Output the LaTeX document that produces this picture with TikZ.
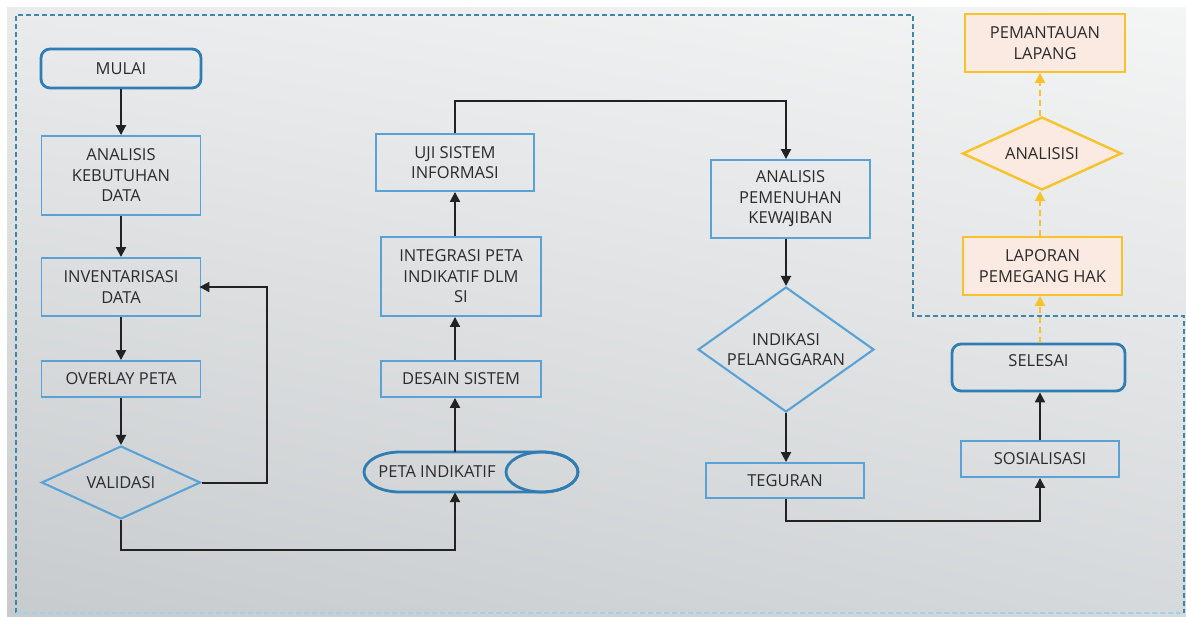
\documentclass[tikz,border=0pt]{standalone}
\usepackage{fontspec}
\setmainfont{Open Sans}
\usetikzlibrary{shapes.geometric,arrows.meta,shadings}
\definecolor{boxblue}{HTML}{5AA2D5}
\definecolor{termblue}{HTML}{2F7DB3}
\definecolor{dashblue}{HTML}{3C87AA}
\definecolor{lightdash}{HTML}{9FD3EA}
\definecolor{ylw}{HTML}{F7C22A}
\definecolor{ylwfill}{HTML}{FBEAE2}
\definecolor{txt}{HTML}{2B2B2B}
\definecolor{arr}{HTML}{222222}
\definecolor{bgUL}{HTML}{E9EBEC}
\definecolor{bgUR}{HTML}{F4F5F5}
\definecolor{bgLL}{HTML}{C8CBCD}
\definecolor{bgLR}{HTML}{D6D9DB}
\begin{document}
\begin{tikzpicture}[x=1pt,y=-1pt,
 base/.style={font=\fontsize{16.5}{20.5}\selectfont, text=txt, align=center, inner sep=0pt},
 proc/.style={base, draw=boxblue, line width=1.9pt},
 term/.style={base, draw=termblue, line width=2.8pt, rounded corners=9pt},
 dec/.style={base, diamond, draw=boxblue, line width=2.1pt},
 yproc/.style={base, draw=ylw, fill=ylwfill, line width=1.9pt},
 ydec/.style={base, diamond, draw=ylw, fill=ylwfill, line width=2.4pt},
 flow/.style={draw=arr, line width=2pt, -{Triangle[length=10pt,width=10pt]}},
 yflow/.style={draw=ylw, line width=2pt, dash pattern=on 6pt off 4pt, -{Triangle[length=10pt,width=10pt]}},
 frame/.style={draw=dashblue, line width=1.5pt, dash pattern=on 5pt off 3pt},
]
\useasboundingbox (0,0) rectangle (1186,616);
\fill[white] (0,0) rectangle (1186,616);
\shade[upper left=bgUL, upper right=bgUR, lower left=bgLL, lower right=bgLR] (7,7) rectangle (1186,616);

% dashed frame
\draw[frame] (16,613) -- (16,15) -- (913,15) -- (913,316) -- (1184,316) -- (1184,613);
\draw[frame, draw=lightdash] (16,613) -- (1184,613);

% column 1
\node[term, minimum width=160pt, minimum height=39pt] (mulai) at (121,68.5) {MULAI};
\node[proc, minimum width=159pt, minimum height=79pt] (akd) at (121,175.5) {ANALISIS\\KEBUTUHAN\\DATA};
\node[proc, minimum width=159pt, minimum height=58pt] (inv) at (121,287) {INVENTARISASI\\DATA};
\node[proc, minimum width=159pt, minimum height=36pt] (ovl) at (121,379) {OVERLAY PETA};
\node[dec, aspect=2.18, minimum width=159pt, minimum height=73pt] (val) at (121,482.5) {VALIDASI};

% column 2
\node[minimum width=214pt, minimum height=40pt, inner sep=0pt] (peta) at (471,472) {};
\draw[termblue, line width=2.8pt] (400,452) -- (542,452)
  arc[start angle=-90, end angle=90, x radius=36, y radius=20] -- (400,492)
  arc[start angle=90, end angle=270, x radius=36, y radius=20] -- cycle;
\draw[termblue, line width=2.8pt] (542,472) ellipse[x radius=36, y radius=20];
\node[base] (petatext) at (437,472) {PETA INDIKATIF};
\node[proc, minimum width=160pt, minimum height=36pt] (des) at (461,379) {DESAIN SISTEM};
\node[proc, minimum width=160pt, minimum height=79pt] (int) at (461,276.5) {INTEGRASI PETA\\INDIKATIF DLM\\SI};
\node[proc, minimum width=158pt, minimum height=57pt] (uji) at (455,162.5) {UJI SISTEM\\INFORMASI};

% column 3
\node[proc, minimum width=159pt, minimum height=78pt] (apk) at (790.5,199) {ANALISIS\\PEMENUHAN\\KEWA\kern-2.5pt JIBAN};
\node[dec, aspect=1.41, minimum width=176pt, minimum height=125pt] (ind) at (786,349.5) {INDIKASI\\PELANGGARAN};
\node[proc, minimum width=158pt, minimum height=35pt] (teg) at (785,480.5) {TEGURAN};

% column 4
\node[proc, minimum width=158pt, minimum height=36pt] (sos) at (1040,459) {SOSIALISASI};
\node[term, minimum width=173pt, minimum height=47pt, text depth=14pt] (sel) at (1038.5,367.5) {SELESAI};
\node[yproc, minimum width=159pt, minimum height=58pt] (lap) at (1042.5,266) {LAPORAN\\PEMEGANG HAK};
\node[ydec, aspect=2.18, minimum width=159pt, minimum height=73pt] (anl) at (1042,153.5) {ANALISISI};
\node[yproc, minimum width=160pt, minimum height=58pt] (pem) at (1045,43) {PEMANTAUAN\\LAPANG};

% connectors
\draw[flow] (mulai) -- (akd);
\draw[flow] (akd) -- (inv);
\draw[flow] (inv) -- (ovl);
\draw[flow] (ovl) -- (val);
\draw[flow, shorten >=-2pt] (val.east) -- ++(65,0) |- (inv.east);
\draw[flow] (val.south) -- ++(0,30) -| (uji.center |- peta.south);
\draw[flow] (uji.center |- peta.north) -- (uji.center |- des.south);
\draw[flow] (uji.center |- des.north) -- (uji.center |- int.south);
\draw[flow] (uji.center |- int.north) -- (uji.south);
\draw[flow] (uji.north) -- ++(0,-32) -| (ind.north |- apk.north);
\draw[flow] (ind.north |- apk.south) -- (ind.north);
\draw[flow] (ind.south) -- (ind.south |- teg.north);
\draw[flow] (ind.south |- teg.south) -- ++(0,22) -| (sos.south);
\draw[flow] (sos.north) -- (sos.north |- sel.south);
\draw[yflow] (sel.north -| sos.north) -- (sos.north |- lap.south);
\draw[yflow] (sos.north |- lap.north) -- (sos.north |- anl.south);
\draw[yflow] (sos.north |- anl.north) -- (sos.north |- pem.south);
\end{tikzpicture}
\end{document}
